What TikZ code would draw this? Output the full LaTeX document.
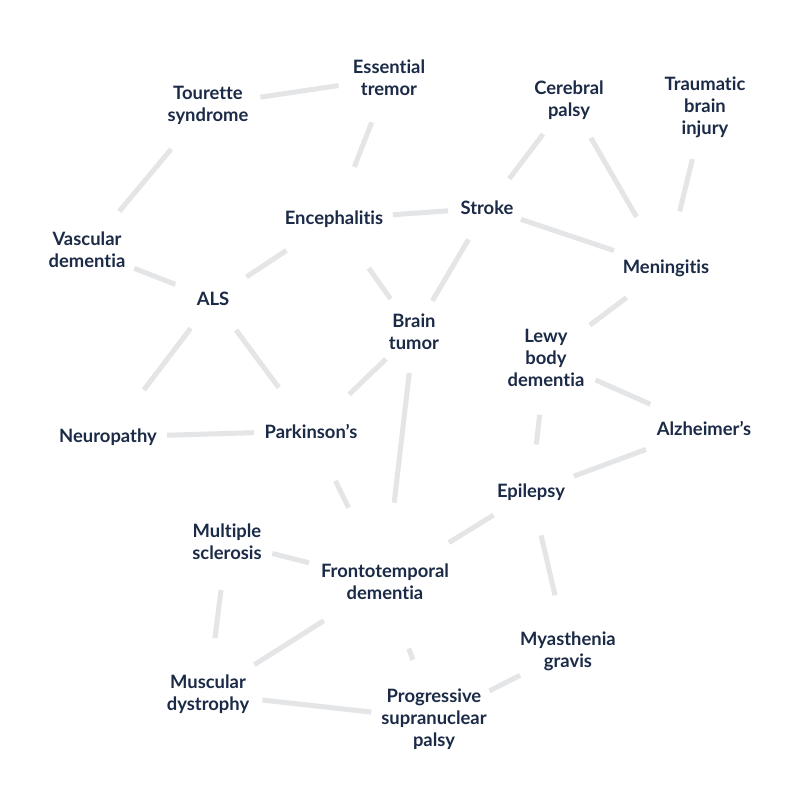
\documentclass[tikz,border=0pt]{standalone}
\usepackage{fontspec}
\setmainfont[Ligatures=NoCommon]{Lato}
\usetikzlibrary{calc}
\definecolor{navy}{HTML}{1B2A47}
\definecolor{lgrey}{HTML}{E4E5E7}
\tikzset{
  lbl/.style={text=navy, font=\fontsize{18.4}{22}\selectfont\bfseries, align=center, inner sep=0pt},
  link/.style={draw=lgrey, line width=5pt}
}
\newcommand\conn[4]{\draw[link] ($(#1)!#3pt!(#2)$) -- ($(#2)!#4pt!(#1)$);}
\begin{document}
\begin{tikzpicture}[x=1pt,y=-1pt]
\useasboundingbox[fill=white] (0,0) rectangle (800,800);
\node[lbl] (ET) at (389,78) {Essential\\tremor};
\node[lbl] (TS) at (208,105) {Tourette\\syndrome};
\node[lbl] (CP) at (569,100) {Cerebral\\palsy};
\node[lbl] (TBI) at (705,107) {Traumatic\\brain\\injury};
\node[lbl] (EN) at (334,219) {Encephalitis};
\node[lbl] (ST) at (487,208) {Stroke};
\node[lbl] (VD) at (87,250) {Vascular\\dementia};
\node[lbl] (ME) at (666,268) {Meningitis};
\node[lbl] (ALS) at (213,299) {ALS};
\node[lbl] (BT) at (414,332) {Brain\\tumor};
\node[lbl] (LB) at (546,358) {Lewy\\body\\dementia};
\node[lbl] (NE) at (108,437) {Neuropathy};
\node[lbl] (PA) at (311,431) {Parkinson’s};
\node[lbl] (AL) at (704,428) {Alzheimer’s};
\node[lbl] (EP) at (531,492) {Epilepsy};
\node[lbl] (MS) at (227,542) {Multiple\\sclerosis};
\node[lbl] (FT) at (385,582) {Frontotemporal\\dementia};
\node[lbl] (MG) at (568,651) {Myasthenia\\gravis};
\node[lbl] (MD) at (208,694) {Muscular\\dystrophy};
\node[lbl] (PSP) at (434,719) {Progressive\\supranuclear\\palsy};
\conn{TS}{ET}{53}{51}
\conn{ET}{EN}{47.5}{56}
\conn{TS}{VD}{57.5}{50.5}
\conn{EN}{ST}{59}{39}
\conn{ST}{CP}{36.7}{42.8}
\conn{CP}{ME}{43.8}{59}
\conn{TBI}{ME}{53.6}{58.2}
\conn{ST}{ME}{35.8}{54.9}
\conn{ST}{BT}{36.4}{36.2}
\conn{EN}{BT}{60.2}{40.6}
\conn{EN}{ALS}{57}{40.2}
\conn{VD}{ALS}{50.6}{40.5}
\conn{ME}{LB}{49.4}{54.9}
\conn{ALS}{NE}{36.9}{59.2}
\conn{ALS}{PA}{38.6}{54.1}
\conn{BT}{PA}{39}{53}
\conn{BT}{FT}{41.2}{79.8}
\conn{LB}{AL}{54.1}{58.7}
\conn{LB}{EP}{57.1}{47.9}
\conn{NE}{PA}{59}{57}
\conn{PA}{FT}{55.5}{82.8}
\conn{AL}{EP}{61.8}{45.7}
\conn{EP}{FT}{44}{75.2}
\conn{EP}{MG}{44.6}{57.3}
\conn{MS}{FT}{46.8}{78.3}
\conn{MS}{MD}{48.3}{56.3}
\conn{FT}{MD}{72.4}{54.9}
\conn{FT}{PSP}{70.6}{62.9}
\conn{MG}{PSP}{53.7}{62.2}
\conn{MD}{PSP}{54.7}{63.2}
\end{tikzpicture}
\end{document}
